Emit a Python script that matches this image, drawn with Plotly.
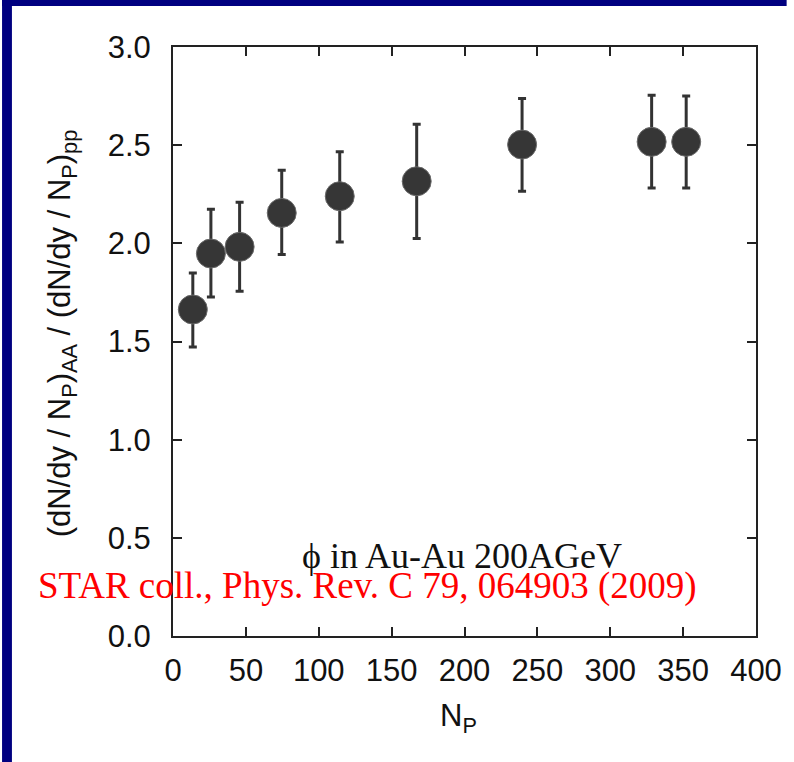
import plotly.graph_objects as go

# ---- data ----
n_part = [13.6, 26.0, 45.7, 74.6, 114.4, 167.2, 239.5, 328.4, 352.1]
ratio = [1.663, 1.948, 1.982, 2.155, 2.240, 2.316, 2.503, 2.517, 2.517]
err_up = [0.186, 0.225, 0.227, 0.217, 0.226, 0.291, 0.235, 0.237, 0.234]
err_down = [0.191, 0.221, 0.226, 0.212, 0.233, 0.292, 0.238, 0.235, 0.235]

x_ticks = [0, 50, 100, 150, 200, 250, 300, 350, 400]
y_ticks = [0.0, 0.5, 1.0, 1.5, 2.0, 2.5, 3.0]
y_tick_text = ["0.0", "0.5", "1.0", "1.5", "2.0", "2.5", "3.0"]

label_system = "\u03d5 in Au-Au 200AGeV"
label_ref = "STAR coll., Phys. Rev. C 79, 064903 (2009)"
y_title = "(dN/dy / N<sub>P</sub>)<sub>AA</sub> / (dN/dy / N<sub>P</sub>)<sub>pp</sub>"
x_title = "N<sub>P</sub>"

# ---- layout geometry (pixels) ----
W, H = 794, 762
L, R, T, B = 173, 31, 47, 126
PW, PH = W - L - R, H - T - B


def px(xp):
    return (xp - L) / PW


def py(yp):
    return (H - B - yp) / PH


sans = "Liberation Sans, Arial, Helvetica, sans-serif"
serif = "Liberation Serif, Times New Roman, serif"

fig = go.Figure()
fig.add_trace(go.Scatter(
    x=n_part, y=ratio, mode="markers",
    marker=dict(size=29, color="#363636", line=dict(width=1, color="#6a6a6a")),
    error_y=dict(type="data", symmetric=False, array=err_up, arrayminus=err_down,
                 color="#333333", thickness=3, width=4),
    showlegend=False,
))

axis_common = dict(
    showline=True, linecolor="#222222", linewidth=2, mirror="ticks",
    ticks="inside", ticklen=9, tickwidth=2, tickcolor="#222222",
    showgrid=False, zeroline=False,
    tickfont=dict(family=sans, size=31, color="#111111"),
)

fig.update_layout(
    width=W, height=H,
    margin=dict(l=L, r=R, t=T, b=B, pad=0),
    paper_bgcolor="white", plot_bgcolor="white",
    xaxis=dict(range=[0, 400], tickvals=x_ticks, ticklabelstandoff=6, **axis_common),
    yaxis=dict(range=[0, 3], tickvals=y_ticks, ticktext=y_tick_text, ticklabelstandoff=14, **axis_common),
    shapes=[
        dict(type="rect", xref="paper", yref="paper", x0=px(0), x1=px(10), y0=py(H), y1=py(0),
             fillcolor="#000080", line=dict(width=0), layer="above"),
        dict(type="rect", xref="paper", yref="paper", x0=px(0), x1=px(W), y0=py(6), y1=py(0),
             fillcolor="#000080", line=dict(width=0), layer="above"),
    ],
    annotations=[
        dict(text=y_title, xref="paper", yref="paper", x=px(61), y=py(333), textangle=-90,
             showarrow=False, xanchor="center", yanchor="middle",
             font=dict(family=sans, size=31, color="#111111")),
        dict(text=x_title, xref="paper", yref="paper", x=px(462), y=py(718),
             showarrow=False, xanchor="center", yanchor="middle",
             font=dict(family=sans, size=31, color="#111111")),
        dict(text=label_system, xref="paper", yref="paper", x=px(465), y=py(556),
             showarrow=False, xanchor="center", yanchor="middle",
             font=dict(family=serif, size=36, color="#111111")),
        dict(text=label_ref, xref="paper", yref="paper", x=px(370), y=py(586),
             showarrow=False, xanchor="center", yanchor="middle",
             font=dict(family=serif, size=37, color="#ff0000")),
    ],
)

fig.write_html("out.html")
